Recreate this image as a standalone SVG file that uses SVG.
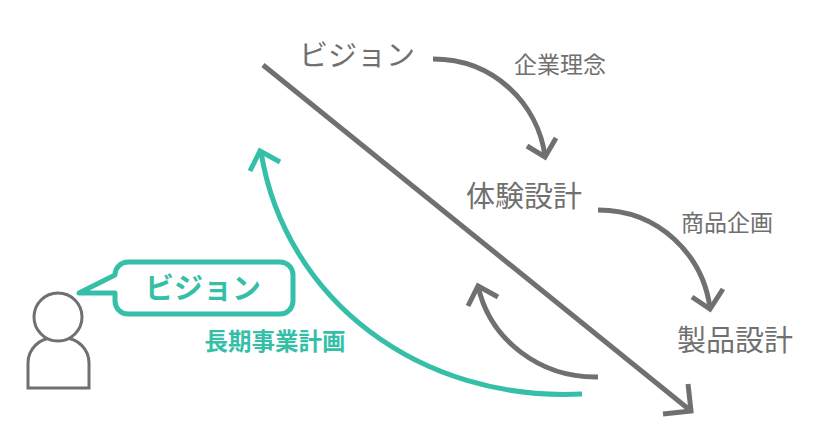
<svg xmlns="http://www.w3.org/2000/svg" width="830" height="447" viewBox="0 0 830 447">
<style>
.g{fill:none;stroke:#707070;stroke-width:5;stroke-linecap:butt;stroke-linejoin:miter}
.t{fill:none;stroke:#36bfa8;stroke-width:5}
.lbl{font-family:"Noto Sans CJK JP","Noto Sans",sans-serif;fill:#707070;text-anchor:middle}
.tl{font-family:"Noto Sans CJK JP","Noto Sans",sans-serif;fill:#36bfa8;font-weight:bold;text-anchor:middle}
</style>
<rect width="830" height="447" fill="#fff"/>
<g id="connectors">
<path class="g" d="M263,65 L691,411"/>
<path class="g" d="M663,414 L691,411 L688,384"/>
<path class="g" d="M433,59 C495,59 538,105 545,156"/>
<path class="g" d="M527,146 L545,157 L556,138"/>
<path class="g" d="M598,210 C660,210 703,256 710,308"/>
<path class="g" d="M692,297 L710,309 L723,289"/>
<path class="g" d="M598,377 C540,378 490,340 478,286"/>
<path class="g" d="M468,306 L478,286 L498,297"/>
<path class="t" d="M582,394 C420,402 285,300 261,152"/>
<path class="t" d="M250,171 L260,151 L280,162"/>
</g>
<g id="person">
<path fill="#fff" stroke="#707070" stroke-width="3" d="M28,388 V363 A25,25 0 0 1 53,338 H64 A25,25 0 0 1 89,363 V388 Z"/>
<circle cx="58" cy="317" r="24" fill="#fff" stroke="#707070" stroke-width="3"/>
</g>
<g id="bubble">
<path fill="#fff" stroke="#36bfa8" stroke-width="5" stroke-linejoin="round" d="M128,262 H280 A13,13 0 0 1 293,275 V301 A13,13 0 0 1 280,314 H128 A13,13 0 0 1 115,301 V293 H79 L115,275 A13,13 0 0 1 128,262 Z"/>
<text class="tl" x="203" y="299" font-size="29">ビジョン</text>
</g>
<g id="plan"><text class="tl" x="275" y="350" font-size="23.5">長期事業計画</text></g>
<g id="vision"><text class="lbl" x="357" y="66" font-size="29">ビジョン</text></g>
<g id="rinen"><text class="lbl" x="560" y="73" font-size="23">企業理念</text></g>
<g id="taiken"><text class="lbl" x="524" y="207" font-size="29">体験設計</text></g>
<g id="kikaku"><text class="lbl" x="727" y="231" font-size="23">商品企画</text></g>
<g id="seihin"><text class="lbl" x="735" y="351" font-size="29">製品設計</text></g>
</svg>
